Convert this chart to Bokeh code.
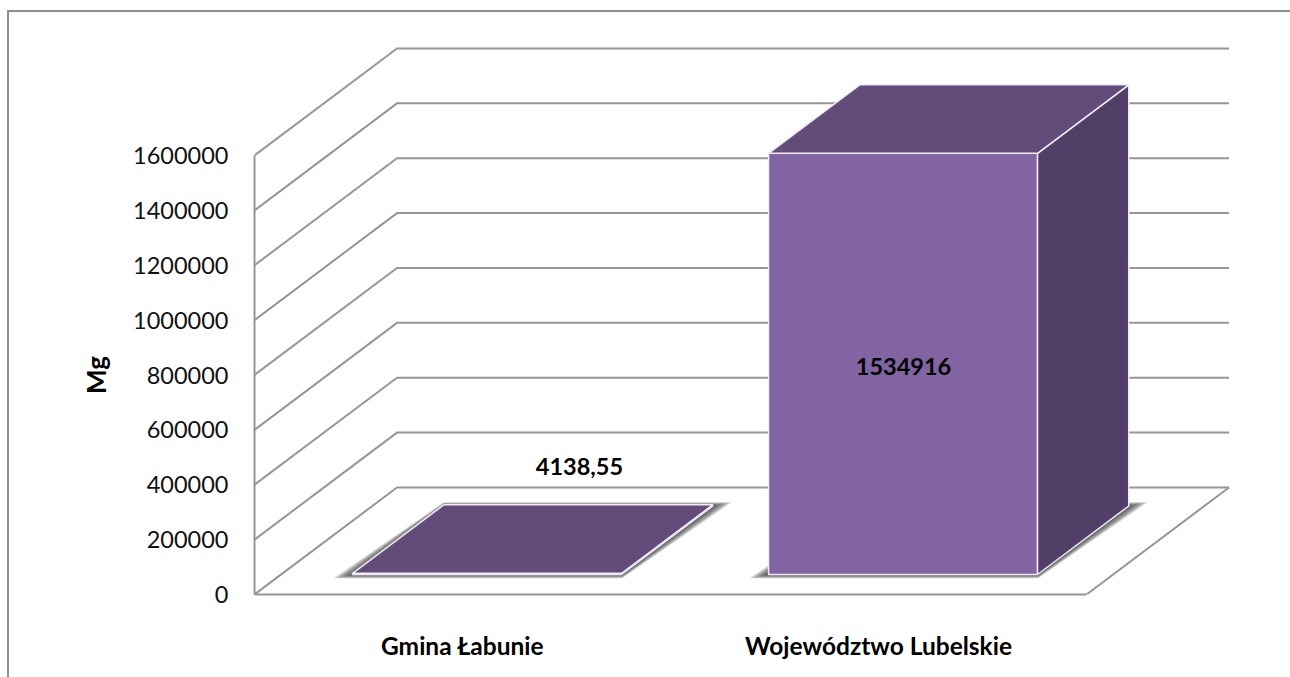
from math import pi
from bokeh.plotting import figure
from bokeh.models import Range1d, FixedTicker, LinearAxis, InlineStyleSheet
from bokeh.core.properties import value
from bokeh.embed import file_html
from bokeh.resources import INLINE

categories = ["Gmina Łabunie", "Województwo Lubelskie"]
values = [4138.55, 1534916]
value_labels = ["4138,55", "1534916"]
y_ticks = [0, 200000, 400000, 600000, 800000, 1000000, 1200000, 1400000, 1600000]
y_label = "Mg"

# 3D projection settings (data units)
DEPTH_X, DEPTH_Y = 0.3425, 390000
GAP_FRONT, GAP_DEPTH = 0.187, 0.64
BAR_WIDTH = 0.6465
BAR_SHIFT = -0.005
PX_X, PX_Y = 1 / 416, 1600000 / 439  # data units per pixel
FRONT, TOP, SIDE = "#8264A2", "#634C7A", "#523F67"
GRID = "#969696"
FONT = "Lato"

# outer chart frame: left and top edges of the chart area
frame_css = InlineStyleSheet(css=""":host::after{content:'';position:absolute;left:7px;top:10px;right:0;bottom:0;
border-left:2px solid #8F8F8F;border-top:2px solid #8F8F8F;pointer-events:none;}""")

WIDTH, HEIGHT = 1290, 677
p = figure(width=WIDTH, height=HEIGHT, output_backend="svg", toolbar_location=None,
           x_range=Range1d(0, 1036 * PX_X), y_range=Range1d(0, 594 * PX_Y),
           min_border_left=254, min_border_bottom=83, min_border_top=0, min_border_right=0,
           outline_line_color=None, background_fill_color="white", border_fill_color="white",
           stylesheets=[frame_css])
p.grid.visible = False

ax = p.yaxis[0]
ax.ticker = FixedTicker(ticks=y_ticks)
ax.bounds = (0, y_ticks[-1])
ax.major_label_text_font = FONT
ax.major_label_text_font_size = "23.5px"
ax.major_label_text_color = "#111111"
ax.major_label_standoff = 20
ax.major_tick_line_color = None
ax.minor_tick_line_color = None
ax.axis_line_color = GRID
ax.axis_line_width = 2
ax.formatter.use_scientific = False

# y axis title, set beside the middle of the axis's span
title_pos = y_ticks[-1] / 2 - 4000 + 20 * PX_Y
title_axis = LinearAxis(ticker=FixedTicker(ticks=[title_pos]), major_label_overrides={title_pos: y_label},
                        major_label_orientation=pi / 2, major_label_standoff=28,
                        major_label_text_font=FONT, major_label_text_font_style="bold",
                        major_label_text_font_size="26px", major_label_text_color="black",
                        major_tick_line_color=None, minor_tick_line_color=None, axis_line_color=None)
p.add_layout(title_axis, "left")

ax = p.xaxis[0]
ax.ticker = FixedTicker(ticks=[i + 0.5 for i in range(len(categories))])
ax.major_label_overrides = {i + 0.5: c for i, c in enumerate(categories)}
ax.bounds = (0, len(categories))
ax.major_label_text_font = FONT
ax.major_label_text_font_style = "bold"
ax.major_label_text_font_size = "24.5px"
ax.major_label_text_color = "black"
ax.major_label_standoff = 30
ax.major_tick_line_color = None
ax.minor_tick_line_color = None
ax.axis_line_color = GRID
ax.axis_line_width = 2

# walls
n = len(categories)
for t in y_ticks:
    p.line([0, DEPTH_X, n + DEPTH_X], [t, t + DEPTH_Y, t + DEPTH_Y], line_color=GRID, line_width=2)
p.line([n, n + DEPTH_X], [0, DEPTH_Y], line_color=GRID, line_width=2)

# bars
for i, v in enumerate(values):
    x0 = i + 0.5 + BAR_SHIFT + GAP_FRONT * DEPTH_X - BAR_WIDTH / 2
    x1 = x0 + BAR_WIDTH
    y0 = GAP_FRONT * DEPTH_Y
    y1 = y0 + v
    dx, dy = GAP_DEPTH * DEPTH_X, GAP_DEPTH * DEPTH_Y

    # soft shadow round the base
    for e in range(20, 0, -1):
        s = e * 0.2 * PX_Y
        h = e * PX_X
        p.patch([x0 - h, x1 + 0.5 * PX_X, x1 + dx + h, x0 + dx],
                [y0 - s, y0 - s, y0 + dy + s, y0 + dy + s],
                fill_color="#333333", fill_alpha=0.07, line_color=None)

    edge = dict(line_color="#EFEAF3", line_width=1.5)
    p.patch([x0, x1, x1, x0], [y0, y0, y1, y1], fill_color=FRONT, **edge)
    p.patch([x1, x1 + dx, x1 + dx, x1], [y0, y0 + dy, y1 + dy, y1], fill_color=SIDE, **edge)
    p.patch([x0, x1, x1 + dx, x0 + dx], [y1, y1, y1 + dy, y1 + dy], fill_color=TOP, **edge)

# value labels
bold = dict(text_font=value(FONT), text_font_style="bold", text_font_size="23.5px",
            text_align="center", text_baseline="middle", text_color="black")
p.text([0.5 + 0.281], [values[0] + 462000], text=[value_labels[0]], **bold)
p.text([1.5 + 0.06], [values[1] / 2 + GAP_FRONT * DEPTH_Y - 10000], text=[value_labels[1]], **bold)

open("out.html", "w").write(file_html(p, INLINE))
